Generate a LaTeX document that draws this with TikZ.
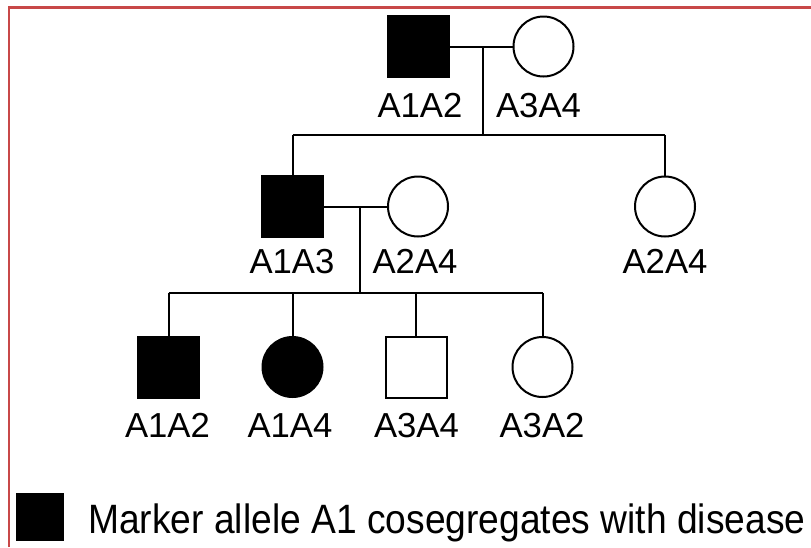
\documentclass[tikz,border=0pt]{standalone}
\usepackage{fontspec}
\setmainfont{Liberation Sans}
\usepackage{graphicx}
\definecolor{frame}{RGB}{200,72,72}
\begin{document}
\begin{tikzpicture}[x=1pt,y=-1pt,
  male/.style={draw, rectangle, minimum size=61pt, inner sep=0pt, line width=2pt},
  female/.style={draw, circle, minimum size=60pt, inner sep=0pt, line width=2pt},
  aff/.style={fill=black},
  conn/.style={line width=2pt},
  lbl/.style={anchor=base, inner sep=0pt, font=\fontsize{34.7}{40}\selectfont}]
\useasboundingbox (0,0) rectangle (811,547);
\draw[frame, line width=2.5pt] (9,547) -- (9,7.5) -- (811,7.5);

% generation 1
\node[male, aff] (g1m) at (418.5,46.5) {};
\node[female] (g1f) at (543.5,46.5) {};
\node[lbl] (l1m) at (420,117) {A1A2};
\node[lbl] (l1f) at (538.5,117) {A3A4};
\coordinate (j1) at (483,46.5);
\coordinate (d1) at (483,135);
\coordinate (s1l) at (292.5,135);
\coordinate (s1r) at (665,135);
\draw[conn] (g1m) -- (g1f);
\draw[conn] (j1) -- (d1);
\draw[conn] (s1l) -- (s1r);

% generation 2
\node[male, aff] (g2m) at (292.5,206.5) {};
\node[female] (g2f) at (418,206.5) {};
\node[female] (g2s) at (665,206.5) {};
\node[lbl] (l2m) at (292,273) {A1A3};
\node[lbl] (l2f) at (415,273) {A2A4};
\node[lbl] (l2s) at (665,273) {A2A4};
\draw[conn] (s1l) -- (g2m.north);
\draw[conn] (s1r) -- (g2s.north);
\coordinate (j2) at (359.5,206.5);
\coordinate (d2) at (359.5,293);
\coordinate (s2l) at (168.5,293);
\coordinate (s2r) at (542.5,293);
\draw[conn] (g2m) -- (g2f);
\draw[conn] (j2) -- (d2);
\draw[conn] (s2l) -- (s2r);

% generation 3
\node[male, aff] (c1) at (168.5,367) {};
\node[female, aff] (c2) at (292.5,367) {};
\node[male] (c3) at (416,367) {};
\node[female] (c4) at (542.5,367) {};
\node[lbl] (lc1) at (167.5,437) {A1A2};
\node[lbl] (lc2) at (290,437) {A1A4};
\node[lbl] (lc3) at (416.5,437) {A3A4};
\node[lbl] (lc4) at (542,437) {A3A2};
\coordinate (t2) at (292.5,293);
\coordinate (t3) at (416,293);
\draw[conn] (s2l) -- (c1.north);
\draw[conn] (t2) -- (c2.north);
\draw[conn] (t3) -- (c3.north);
\draw[conn] (s2r) -- (c4.north);

% legend
\node[draw=none, fill=black, minimum size=48pt, inner sep=0pt] (key) at (40,516.5) {};
\node[anchor=base west, inner sep=0pt, font=\fontsize{41}{48}\selectfont] (keytxt) at (88,533)
  {\scalebox{0.907}[1]{Marker allele A1 cosegregates with disease}};
\end{tikzpicture}
\end{document}
